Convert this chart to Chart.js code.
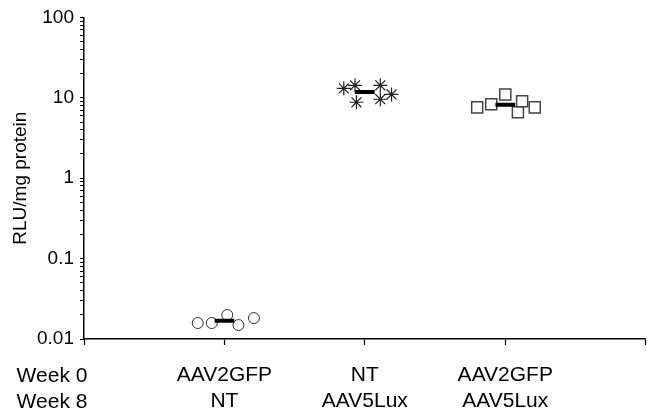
<!DOCTYPE html>
<html><head><meta charset="utf-8">
<script src="https://cdn.jsdelivr.net/npm/chart.js@4"></script>
<style>html,body{margin:0;padding:0;background:#fff;overflow:hidden}#wrap{width:655px;height:413px;position:relative}canvas{display:block}</style>
</head><body><div id="wrap"><canvas id="c"></canvas></div>
<script>
const categories = [['AAV2GFP','NT'],['NT','AAV5Lux'],['AAV2GFP','AAV5Lux']];
const rowLabels = ['Week 0','Week 8'];
const yTickLabels = ['0.01','0.1','1','10','100'];
// group 1: AAV2GFP / NT (circles)
const g1X = [0.81,0.91,1.02,1.10,1.21];
const g1Y = [0.0158,0.0158,0.0199,0.0149,0.0182];
const g1Mean = 0.0169;
// group 2: NT / AAV5Lux (asterisks)
const g2X = [1.85,1.93,1.94,2.11,2.11,2.19];
const g2Y = [13.1,14.3,8.8,14.3,9.6,11.0];
const g2Mean = 11.8;
// group 3: AAV2GFP / AAV5Lux (squares)
const g3X = [2.80,2.90,3.00,3.09,3.12,3.21];
const g3Y = [7.6,8.3,11.0,6.6,9.05,7.6];
const g3Mean = 8.2;

const FONT = "'Liberation Sans', Arial, sans-serif";
const pts = (xs, ys) => xs.map((x,i)=>({x, y: ys[i]}));
const HW = 0.07;
const meanLine = (c, m) => [{x: c-HW, y: m}, {x: c+HW, y: m}];

const rowPlugin = {
  id: 'rowLabels',
  afterDraw(chart) {
    const ctx = chart.ctx, xs = chart.scales.x;
    ctx.save();
    ctx.font = '21px ' + FONT;
    ctx.fillStyle = '#000';
    ctx.textAlign = 'center';
    ctx.textBaseline = 'middle';
    const y0 = xs.top + 37, lh = 26;
    rowLabels.forEach((t,i)=>ctx.fillText(t, 52, y0 + i*lh));
    ctx.restore();
  }
};

new Chart(document.getElementById('c'), {
  type: 'scatter',
  data: { datasets: [
    { data: meanLine(1, g1Mean), showLine: true, borderColor:'#000', borderWidth:4, pointRadius:0, order:0 },
    { data: meanLine(2, g2Mean), showLine: true, borderColor:'#000', borderWidth:4, pointRadius:0, order:0 },
    { data: meanLine(3, g3Mean), showLine: true, borderColor:'#000', borderWidth:4, pointRadius:0, order:0 },
    { data: pts(g1X,g1Y), pointStyle:'circle', pointRadius:5.5, backgroundColor:'#fff', borderColor:'#333', borderWidth:1, order:1 },
    { data: pts(g2X,g2Y), pointStyle:'star', pointRadius:7, backgroundColor:'#fff', borderColor:'#222', borderWidth:1.2, order:1 },
    { data: pts(g3X,g3Y), pointStyle:'rect', pointRadius:7.8, backgroundColor:'#fff', borderColor:'#444', borderWidth:1.5, order:1 }
  ]},
  options: {
    responsive: true, maintainAspectRatio: false, animation: false,
    layout: { padding: { top: 17, right: 7, left: 0, bottom: 0 } },
    plugins: { legend: {display:false}, tooltip: {enabled:false} },
    scales: {
      x: {
        type: 'linear', min: 0, max: 4,
        afterFit(s){ s.height = 74; s.paddingLeft = 0; s.paddingRight = 0; },
        border: { display: true, color:'#000', width: 1.5 },
        grid: { display: true, drawOnChartArea: false, tickLength: 6, color:'#000', tickWidth: 1.2 },
        ticks: { stepSize: 1, padding: 17, color:'#000', font: { family: FONT, size: 21, lineHeight: 1.24 },
          callback(v){ return (v>=1 && v<=3) ? categories[v-1] : ''; } }
      },
      y: {
        type: 'logarithmic', min: 0.01, max: 100,
        afterFit(s){ s.width = 84; },
        afterBuildTicks(s){
          const t = [];
          for (let e = -2; e <= 2; e++) {
            for (let k = 1; k <= 9; k++) {
              t.push({ value: k * Math.pow(10, e), major: k === 1 });
              if (e === 2) break;
            }
          }
          s.ticks = t;
        },
        border: { display: true, color:'#000', width: 1.5 },
        grid: { display: true, drawOnChartArea: false, tickLength: 4, color:'#000', tickWidth: 1 },
        title: { display: true, text: 'RLU/mg protein', color:'#000', font: { family: FONT, size: 19 }, padding: { top: 9, bottom: 0 } },
        ticks: { autoSkip: false, padding: 6, color:'#000', font: { family: FONT, size: 19 },
          callback(v){
            const e = Math.log10(v), r = Math.round(e);
            if (Math.abs(e - r) < 1e-6 && r >= -2 && r <= 2) return yTickLabels[r+2];
            return '';
          } }
      }
    }
  },
  plugins: [rowPlugin]
});
</script></body></html>
